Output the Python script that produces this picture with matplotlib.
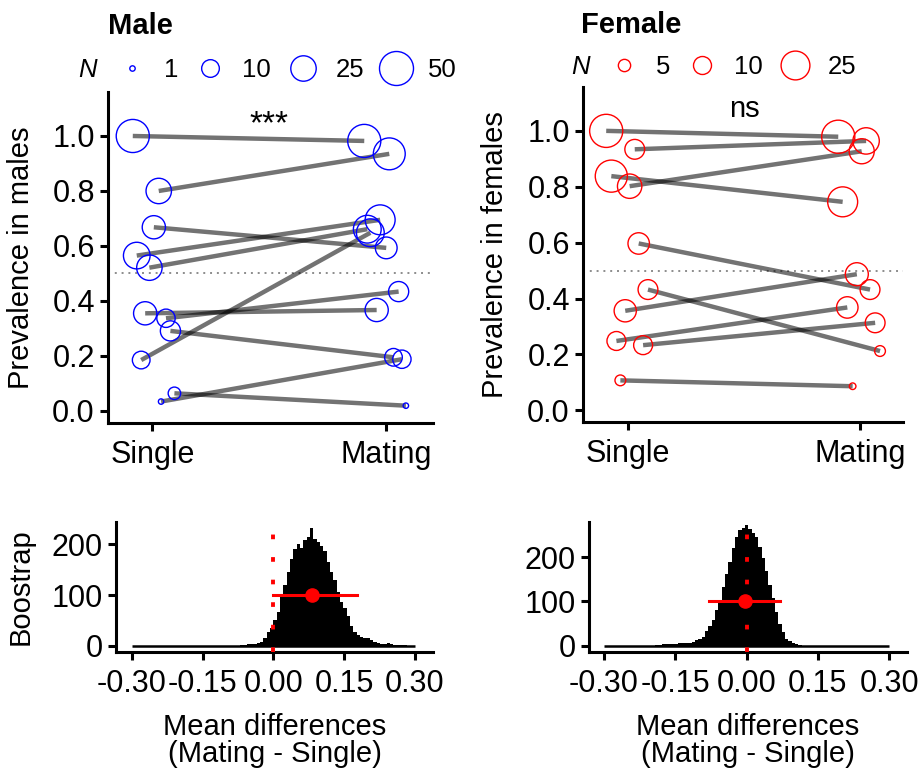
import matplotlib
matplotlib.use('agg')
import matplotlib.pyplot as plt
from matplotlib.lines import Line2D
from matplotlib.ticker import FormatStrFormatter
import numpy as np

plt.rcParams['font.family'] = ['Liberation Sans', 'DejaVu Sans']
plt.rcParams['axes.unicode_minus'] = False

# ---- top panels: prevalence per line (Single -> Mating), x = jittered position
male_single_x = [0.916, 1.027, 1.006, 0.933, 0.987, 0.952, 0.969, 1.058, 1.077, 1.037, 1.094]
male_single_y = [1.000, 0.800, 0.668, 0.565, 0.521, 0.185, 0.355, 0.337, 0.291, 0.034, 0.064]
male_single_n = [47, 25, 20, 28, 25, 10, 20, 11, 14, 1, 4]
male_mating_x = [1.906, 2.013, 2.000, 1.974, 1.919, 1.932, 1.959, 2.053, 2.031, 2.067, 2.084]
male_mating_y = [0.982, 0.935, 0.593, 0.695, 0.661, 0.648, 0.367, 0.434, 0.195, 0.188, 0.019]
male_mating_n = [47, 43, 17, 37, 31, 31, 20, 14, 10, 11, 1]

female_single_x = [0.906, 1.029, 0.928, 1.007, 1.046, 0.988, 1.086, 0.950, 1.065, 0.967]
female_single_y = [1.000, 0.934, 0.838, 0.802, 0.597, 0.356, 0.432, 0.248, 0.233, 0.107]
female_single_n = [33, 12, 31, 18, 14, 15, 12, 11, 11, 4]
female_mating_x = [1.906, 2.026, 1.925, 2.007, 2.043, 1.986, 2.086, 1.945, 2.065, 1.968]
female_mating_y = [0.979, 0.964, 0.746, 0.927, 0.432, 0.487, 0.212, 0.368, 0.313, 0.086]
female_mating_n = [33, 21, 27, 19, 12, 16, 4, 14, 12, 2]

groups = ['Single', 'Mating']
male_legend_n = [1, 10, 25, 50]
female_legend_n = [5, 10, 25]
male_sig = '***'
female_sig = 'ns'

# ---- bottom panels: bootstrap histograms of mean differences
male_bin_start = -0.0706
male_bin_width = 0.00706
male_counts = [2, 2, 3, 3, 4, 5, 8, 16, 28, 34, 50, 67, 97, 120, 146, 172, 190, 200,
               192, 208, 215, 233, 210, 205, 197, 186, 166, 146, 130, 106, 86, 75, 58,
               39, 27, 22, 17, 16, 16, 11, 8, 6, 3, 4, 5, 3, 2, 2, 1, 1]
female_bin_start = -0.1926
female_bin_width = 0.00702
female_counts = [2, 2, 3, 3, 3, 4, 4, 5, 5, 6, 7, 8, 13, 15, 20, 33, 44, 58, 80, 100,
                 132, 162, 190, 220, 245, 262, 267, 273, 265, 255, 245, 224, 198, 168,
                 138, 107, 77, 50, 30, 15, 10, 6, 3, 2]
hist_range = (-0.30, 0.30)
male_mean, male_ci = 0.081, (0.000, 0.178)
female_mean, female_ci = -0.003, (-0.080, 0.070)
marker_y = 100

W, H = 919, 774
fig = plt.figure(figsize=(W / 100, H / 100), dpi=100)
FS = 21
TICK_FS = 22
LEG_FS = 18.5
LW = 2.2


def px_axes(left, top, right, bottom):
    return fig.add_axes([left / W, (H - bottom) / H, (right - left) / W, (bottom - top) / H])


def style(ax):
    for s in ['top', 'right']:
        ax.spines[s].set_visible(False)
    for s in ['left', 'bottom']:
        ax.spines[s].set_linewidth(LW)
    ax.tick_params(length=5.5, width=LW, labelsize=TICK_FS, colors='black')
    ax.tick_params(axis='y', pad=4)
    ax.tick_params(axis='x', pad=7)


def diam(n, lo, hi, dmin, dmax):
    # circle diameter in points (area-like scale)
    n = np.asarray(n, dtype=float)
    return (dmin + (dmax - dmin) * np.sqrt((n - lo) / (hi - lo))) * 0.72


def top_panel(ax, sx, sy, sn, mx, my, mn, color, scale, ylabel, sig, sig_fs, sig_y):
    for x0, y0, x1, y1 in zip(sx, sy, mx, my):
        ax.plot([x0, x1], [y0, y1], color='black', alpha=0.55, lw=3.2,
                solid_capstyle='butt', zorder=2)
    ax.axhline(0.5, color='#8c8c8c', lw=1.4, ls=(0, (1, 2.5)), zorder=1)
    ax.scatter(sx, sy, s=diam(sn, *scale) ** 2, facecolors='none', edgecolors=color,
               linewidths=1.0, zorder=3)
    ax.scatter(mx, my, s=diam(mn, *scale) ** 2, facecolors='none', edgecolors=color,
               linewidths=1.0, zorder=3)
    ax.set_xticks([1, 2])
    ax.set_xticklabels(groups)
    ax.set_yticks(np.arange(0, 1.01, 0.2))
    ax.yaxis.set_major_formatter(FormatStrFormatter('%.1f'))
    ax.set_ylabel(ylabel, fontsize=FS, va='center')
    ax.text(1.5, sig_y, sig, ha='center', va='center', fontsize=sig_fs)
    style(ax)


def legend(ns, color, scale, x_anchor, y_anchor, n_x):
    handles = [Line2D([], [], ls='', marker='o', mfc='none', mec=color, mew=1.0,
                      ms=float(diam(n, *scale))) for n in ns]
    fig.legend(handles, [str(n) for n in ns], ncol=len(ns), loc='center left',
               bbox_to_anchor=(x_anchor / W, (H - y_anchor) / H), frameon=False,
               fontsize=LEG_FS, handlelength=1.3, handletextpad=0.6, columnspacing=0.6,
               borderpad=0, borderaxespad=0)
    fig.text(n_x / W, (H - y_anchor) / H, 'N', style='italic', fontsize=LEG_FS,
             ha='center', va='center')


male_scale = (1, 50, 5.4, 34.0)
female_scale = (1, 36, 0.9, 34.6)

ax1 = px_axes(108, 92, 433, 423)
top_panel(ax1, male_single_x, male_single_y, male_single_n, male_mating_x, male_mating_y,
          male_mating_n, '#0000ff', male_scale, 'Prevalence in males', male_sig, 24, 1.04)
ax1.set_xlim(0.81, 2.2)
ax1.set_ylim(-0.044, 1.16)
ax1.yaxis.set_label_coords((21 - 108) / 325, 0.5)
ax1.set_title('Male', loc='left', fontweight='bold', fontsize=FS, pad=42)
legend(male_legend_n, '#0000ff', male_scale, 115, 70, 88)

ax2 = px_axes(583, 87, 903, 422)
top_panel(ax2, female_single_x, female_single_y, female_single_n, female_mating_x,
          female_mating_y, female_mating_n, '#ff0000', female_scale,
          'Prevalence in females', female_sig, FS, 1.08)
ax2.set_xlim(0.806, 2.185)
ax2.set_ylim(-0.042, 1.157)
ax2.yaxis.set_label_coords((495 - 583) / 320, 0.5)
ax2.set_title('Female', loc='left', fontweight='bold', fontsize=FS, pad=39, x=-0.005)
legend(female_legend_n, '#ff0000', female_scale, 607, 67, 581)


def bottom_panel(ax, start, width, counts, mean, ci, ylabel):
    edges = start + width * np.arange(len(counts) + 1)
    ax.hlines(0, *hist_range, color='black', lw=1.8, zorder=1)
    ax.stairs(counts, edges, fill=True, color='black', zorder=2)
    ax.axvline(0, color='red', lw=2.8, ls=(0, (1.2, 4.6)), zorder=3)
    ax.plot(ci, [marker_y, marker_y], color='red', lw=2.2, zorder=4)
    ax.plot([mean], [marker_y], 'o', color='red', ms=9.5, zorder=5)
    ax.set_xticks(np.linspace(-0.3, 0.3, 5))
    ax.xaxis.set_major_formatter(FormatStrFormatter('%.2f'))
    ax.set_yticks([0, 100, 200])
    ax.set_xlabel('Mean differences\n(Mating - Single)', fontsize=FS, labelpad=10,
                  linespacing=0.95)
    if ylabel:
        ax.set_ylabel(ylabel, fontsize=FS, va='center')
    style(ax)


ax3 = px_axes(115.7, 521.7, 433.3, 651.7)
bottom_panel(ax3, male_bin_start, male_bin_width, male_counts, male_mean, male_ci, 'Boostrap')
ax3.set_xlim(-0.334, 0.339)
ax3.set_ylim(-11.8, 244.6)
ax3.yaxis.set_label_coords((21 - 115.7) / 317.6, 0.5)

ax4 = px_axes(589.3, 521.7, 906.7, 651.7)
bottom_panel(ax4, female_bin_start, female_bin_width, female_counts, female_mean,
             female_ci, None)
ax4.set_xlim(-0.331, 0.337)
ax4.set_ylim(-13.6, 280.5)

fig.savefig('out.png', dpi=100)
